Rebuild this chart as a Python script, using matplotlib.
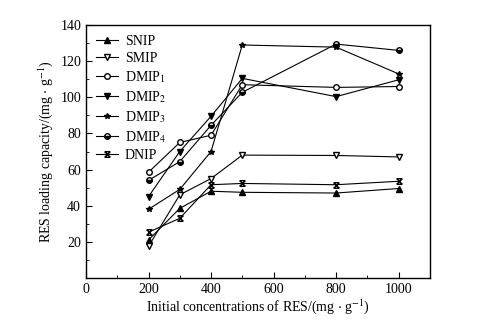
import matplotlib
matplotlib.use('Agg')
import matplotlib.pyplot as plt
from matplotlib.path import Path
from matplotlib.ticker import MultipleLocator

plt.rcParams['font.family'] = ['Liberation Serif', 'DejaVu Serif']
plt.rcParams['mathtext.fontset'] = 'stix'

conc = [200, 300, 400, 500, 800, 1000]
snip = [21, 38.5, 48, 47.4, 47, 49.5]
smip = [17.5, 46, 55, 68, 67.8, 67]
dmip1 = [58.5, 75, 79, 107, 105.5, 106]
dmip2 = [45, 70, 89.5, 110.5, 100.4, 109.7]
dmip3 = [38, 49, 70, 129, 127.8, 113]
dmip4 = [54, 64.4, 84.5, 102.8, 129.5, 126]
dnip = [25.3, 33, 51.6, 52.3, 51.6, 53.5]

# X with bars on top and bottom
xbox = Path([(-1, -1), (1, 1), (-1, 1), (1, -1), (-1, 1), (1, 1), (-1, -1), (1, -1)],
            [Path.MOVETO, Path.LINETO, Path.MOVETO, Path.LINETO,
             Path.MOVETO, Path.LINETO, Path.MOVETO, Path.LINETO])

fig = plt.figure(figsize=(4.83, 3.22), dpi=100)
ax = fig.add_axes([0.178, 0.137, 0.712, 0.785])

kw = dict(color='black', linewidth=0.8, markersize=4)
ax.plot(conc, snip, marker='^', label='SNIP', **kw)
ax.plot(conc, smip, marker='v', markerfacecolor='white', label='SMIP', **kw)
ax.plot(conc, dmip1, marker='o', markerfacecolor='white', label='DMIP$_1$', **kw)
ax.plot(conc, dmip2, marker='v', label='DMIP$_2$', **kw)
ax.plot(conc, dmip3, marker='*', label='DMIP$_3$', **kw)
ax.plot(conc, dmip4, marker='o', fillstyle='bottom', markerfacecoloralt='white', label='DMIP$_4$', **kw)
ax.plot(conc, dnip, marker=xbox, markerfacecolor='none', label='DNIP', **kw)

ax.set_xlim(0, 1100)
ax.set_ylim(0, 140)
ax.xaxis.set_major_locator(MultipleLocator(200))
ax.xaxis.set_minor_locator(MultipleLocator(100))
ax.yaxis.set_minor_locator(MultipleLocator(10))
ax.set_yticks([20, 40, 60, 80, 100, 120, 140])
ax.tick_params(which='both', direction='in', labelsize=10)
ax.tick_params(which='major', length=4)
ax.tick_params(which='minor', length=2)
for s in ax.spines.values():
    s.set_linewidth(1.0)

ax.set_xlabel('Initial concentrations of RES/(mg $\\cdot$ g$^{-1}$)', fontsize=10, labelpad=1)
ax.set_ylabel('RES loading capacity/(mg $\\cdot$ g$^{-1}$)', fontsize=10, labelpad=4)

ax.legend(loc='upper left', frameon=False, fontsize=10, handlelength=1.6,
          labelspacing=0.3, borderaxespad=0.3, handletextpad=0.5)

fig.savefig('out.png', dpi=100)
